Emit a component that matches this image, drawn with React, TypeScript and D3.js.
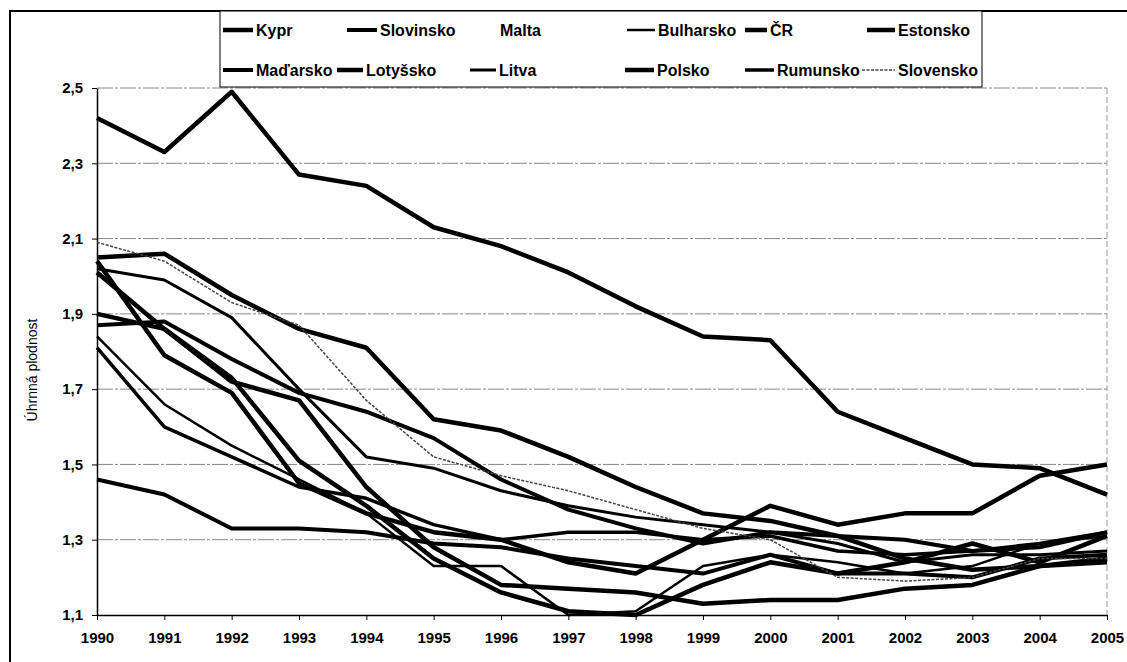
import React, { useEffect, useRef } from 'react';
import * as d3 from 'd3';

const years = [1990, 1991, 1992, 1993, 1994, 1995, 1996, 1997, 1998, 1999, 2000, 2001, 2002, 2003, 2004, 2005];
const yTicks = [1.1, 1.3, 1.5, 1.7, 1.9, 2.1, 2.3, 2.5];

const kypr = [2.42, 2.33, 2.49, 2.27, 2.24, 2.13, 2.08, 2.01, 1.92, 1.84, 1.83, 1.64, 1.57, 1.50, 1.49, 1.42];
const slovinsko = [1.46, 1.42, 1.33, 1.33, 1.32, 1.29, 1.28, 1.25, 1.23, 1.21, 1.26, 1.21, 1.21, 1.20, 1.25, 1.26];
const malta: number[] = [];
const bulharsko = [1.84, 1.66, 1.55, 1.46, 1.37, 1.23, 1.23, 1.10, 1.11, 1.23, 1.26, 1.24, 1.21, 1.23, 1.29, 1.31];
const cr = [1.90, 1.86, 1.72, 1.67, 1.44, 1.28, 1.18, 1.17, 1.16, 1.13, 1.14, 1.14, 1.17, 1.18, 1.23, 1.25];
const estonsko = [2.04, 1.79, 1.69, 1.45, 1.37, 1.32, 1.30, 1.24, 1.21, 1.30, 1.39, 1.34, 1.37, 1.37, 1.47, 1.50];
const madarsko = [1.87, 1.88, 1.78, 1.69, 1.64, 1.57, 1.46, 1.38, 1.33, 1.29, 1.32, 1.31, 1.30, 1.27, 1.28, 1.32];
const lotyssko = [2.01, 1.86, 1.73, 1.51, 1.39, 1.25, 1.16, 1.11, 1.10, 1.18, 1.24, 1.21, 1.24, 1.29, 1.24, 1.31];
const litva = [2.02, 1.99, 1.89, 1.70, 1.52, 1.49, 1.43, 1.39, 1.36, 1.34, 1.32, 1.29, 1.24, 1.26, 1.26, 1.27];
const polsko = [2.05, 2.06, 1.95, 1.86, 1.81, 1.62, 1.59, 1.52, 1.44, 1.37, 1.35, 1.31, 1.25, 1.22, 1.23, 1.24];
const rumunsko = [1.81, 1.60, 1.52, 1.44, 1.41, 1.34, 1.30, 1.32, 1.32, 1.30, 1.31, 1.27, 1.26, 1.27, 1.29, 1.32];
const slovensko = [2.09, 2.04, 1.93, 1.87, 1.67, 1.52, 1.47, 1.43, 1.38, 1.33, 1.30, 1.20, 1.19, 1.20, 1.25, 1.25];

const names = ['Kypr', 'Slovinsko', 'Malta', 'Bulharsko', 'ČR', 'Estonsko',
  'Maďarsko', 'Lotyšsko', 'Litva', 'Polsko', 'Rumunsko', 'Slovensko'];
const values = [kypr, slovinsko, malta, bulharsko, cr, estonsko,
  madarsko, lotyssko, litva, polsko, rumunsko, slovensko];

// line look per series (same order as names)
const widths = [4.5, 4, 0, 2.5, 4.5, 4.5, 4, 4.5, 3, 4.5, 3.5, 1.5];
const dashes = ['', '', '', '', '', '', '', '', '', '', '', '3,1.5'];
const strokes = ['#000', '#000', 'none', '#000', '#000', '#000', '#000', '#000', '#000', '#000', '#000', '#444'];

// legend layout: sample line start / text start for each entry
const legendLine = [223, 347, 0, 627, 745, 867, 223, 337, 470, 625, 745, 862];
const legendText = [256, 380, 500, 658, 770, 898, 256, 366, 499, 657, 777, 898];

const W = 1127;
const H = 662;
const font = 'Arial, "Liberation Sans", sans-serif';

function App() {
  const ref = useRef<SVGSVGElement>(null);

  useEffect(() => {
    const svg = d3.select(ref.current);
    svg.selectAll('*').remove();

    const x = d3.scaleLinear().domain([1990, 2005]).range([97, 1107]);
    const y = d3.scaleLinear().domain([1.1, 2.5]).range([615, 88]);

    // outer frame (right side runs past the picture)
    svg.append('rect')
      .attr('x', 10).attr('y', 11).attr('width', 1140).attr('height', 700)
      .attr('fill', 'none').attr('stroke', '#000').attr('stroke-width', 2);

    // gridlines
    svg.append('g')
      .selectAll('line')
      .data(yTicks.slice(1))
      .join('line')
      .attr('x1', x(1990)).attr('x2', x(2005))
      .attr('y1', d => y(d)).attr('y2', d => y(d))
      .attr('stroke', '#888').attr('stroke-width', 1)
      .attr('stroke-dasharray', '16,2,3,2');

    // right plot edge
    svg.append('line')
      .attr('x1', x(2005)).attr('x2', x(2005))
      .attr('y1', y(2.5)).attr('y2', y(1.1))
      .attr('stroke', '#999').attr('stroke-width', 1)
      .attr('stroke-dasharray', '6,3');

    // axes
    const xAxis = svg.append('g')
      .attr('transform', `translate(0,${y(1.1)})`)
      .call(d3.axisBottom(x).tickValues(years).tickFormat(d3.format('d')).tickSize(5).tickSizeOuter(0));
    xAxis.select('.domain').attr('stroke', '#000').attr('stroke-width', 1.5);
    xAxis.selectAll('.tick line').attr('stroke', '#000');
    xAxis.selectAll('text')
      .attr('dy', null).attr('y', 28)
      .attr('font-family', font).attr('font-size', 15).attr('font-weight', 'bold').attr('fill', '#000');

    const yAxis = svg.append('g')
      .attr('transform', `translate(${x(1990)},0)`)
      .call(d3.axisLeft(y).tickValues(yTicks).tickFormat(d => d3.format('.1f')(d as number).replace('.', ',')).tickSize(5).tickSizeOuter(0));
    yAxis.select('.domain').attr('stroke', '#000').attr('stroke-width', 1.5);
    yAxis.selectAll('.tick line').attr('stroke', '#000');
    yAxis.selectAll('text')
      .attr('x', -14)
      .attr('font-family', font).attr('font-size', 15).attr('font-weight', 'bold').attr('fill', '#000');

    svg.append('text')
      .attr('transform', `translate(37,370) rotate(-90)`)
      .attr('text-anchor', 'middle')
      .attr('font-family', font).attr('font-size', 14)
      .text('Úhrnná plodnost');

    // series lines
    const line = d3.line<number>()
      .x((_, i) => x(years[i]))
      .y(d => y(d));

    svg.append('g')
      .selectAll('path')
      .data(values.map((v, i) => ({ v, i })).filter(d => d.v.length > 0))
      .join('path')
      .attr('d', d => line(d.v))
      .attr('fill', 'none')
      .attr('stroke', d => strokes[d.i])
      .attr('stroke-width', d => widths[d.i])
      .attr('stroke-dasharray', d => dashes[d.i] || null)
      .attr('stroke-linejoin', 'round');

    // legend
    const lg = svg.append('g');
    lg.append('rect')
      .attr('x', 220).attr('y', 11).attr('width', 762).attr('height', 76)
      .attr('fill', '#fff').attr('stroke', '#000').attr('stroke-width', 1);

    names.forEach((name, i) => {
      const rowY = i < 6 ? 30 : 70;
      if (strokes[i] !== 'none') {
        lg.append('line')
          .attr('x1', legendLine[i]).attr('x2', legendText[i] - 3)
          .attr('y1', rowY).attr('y2', rowY)
          .attr('stroke', strokes[i])
          .attr('stroke-width', widths[i])
          .attr('stroke-dasharray', dashes[i] || null);
      }
      lg.append('text')
        .attr('x', legendText[i]).attr('y', rowY)
        .attr('dominant-baseline', 'central')
        .attr('font-family', font).attr('font-size', 16).attr('font-weight', 'bold')
        .text(name);
    });
  }, []);

  return (
    <svg ref={ref} width={W} height={H}
      style={{ position: 'absolute', left: 0, top: 0, background: '#fff' }} />
  );
}

export default App;
